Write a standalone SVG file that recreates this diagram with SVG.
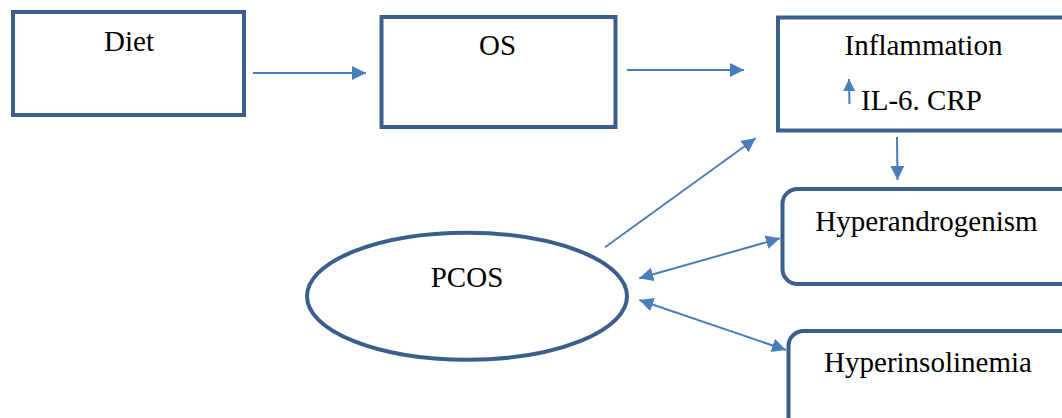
<svg xmlns="http://www.w3.org/2000/svg" width="1062" height="418" viewBox="0 0 1062 418">
<style>
.box{fill:#fff;stroke:#3b5f8d;stroke-width:4}
.lbl{font-family:"Liberation Serif","Times New Roman",serif;font-size:29px;fill:#000;text-anchor:middle}
.conn{stroke:#4a7ebb;stroke-width:2;fill:none}
</style>
<defs>
<marker id="ah" markerUnits="userSpaceOnUse" markerWidth="16" markerHeight="16" refX="14" refY="7" orient="auto-start-reverse">
<path d="M0,0 L14,7 L0,14 z" fill="#4a7ebb"/>
</marker>
<marker id="ahs" markerUnits="userSpaceOnUse" markerWidth="14" markerHeight="14" refX="12" refY="6" orient="auto">
<path d="M0,0 L12,6 L0,12 z" fill="#4a7ebb"/>
</marker>
</defs>
<rect width="1062" height="418" fill="#fff"/>
<g id="diet">
<rect class="box" x="13" y="12" width="231" height="103"/>
<text class="lbl" x="129" y="51">Diet</text>
</g>
<g id="os">
<rect class="box" x="381.5" y="17" width="234" height="110"/>
<text class="lbl" x="497.5" y="55">OS</text>
</g>
<g id="inflammation">
<rect class="box" x="778" y="17.5" width="300" height="113"/>
<text class="lbl" x="923.5" y="55">Inflammation</text>
<text class="lbl" x="921.5" y="110">IL-6. CRP</text>
<line class="conn" x1="849.5" y1="104" x2="849" y2="79" marker-end="url(#ahs)"/>
</g>
<g id="hyperandrogenism">
<rect class="box" x="782.5" y="189" width="300" height="95" rx="15" ry="15"/>
<text class="lbl" x="926.5" y="231">Hyperandrogenism</text>
</g>
<g id="hyperinsolinemia">
<rect class="box" x="788.5" y="331" width="300" height="120" rx="15" ry="15"/>
<text class="lbl" x="928" y="372">Hyperinsolinemia</text>
</g>
<g id="pcos">
<ellipse class="box" cx="467" cy="296.3" rx="160" ry="63.5"/>
<text class="lbl" x="467" y="287">PCOS</text>
</g>
<g id="connectors">
<line class="conn" x1="253" y1="73" x2="366" y2="73" marker-end="url(#ah)"/>
<line class="conn" x1="627" y1="70" x2="744" y2="70" marker-end="url(#ah)"/>
<line class="conn" x1="897" y1="137" x2="897.5" y2="180" marker-end="url(#ah)"/>
<line class="conn" x1="605" y1="247.3" x2="755.7" y2="138.3" marker-end="url(#ah)"/>
<line class="conn" x1="639.3" y1="278.3" x2="780" y2="238.3" marker-start="url(#ah)" marker-end="url(#ah)"/>
<line class="conn" x1="639.3" y1="300" x2="786" y2="350" marker-start="url(#ah)" marker-end="url(#ah)"/>
</g>
</svg>
